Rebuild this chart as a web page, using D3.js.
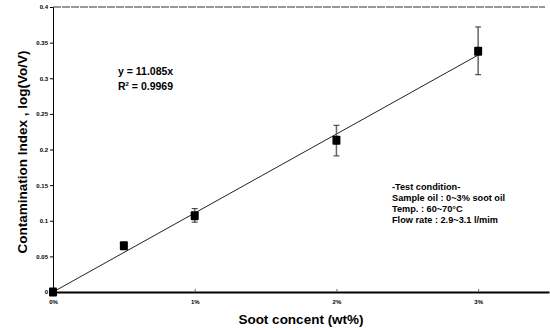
<!DOCTYPE html>
<html>
<head>
<meta charset="utf-8">
<script src="https://cdn.jsdelivr.net/npm/d3@7"></script>
<style>
  body { margin: 0; background: #fff; }
  text { font-family: "Liberation Sans", Arial, sans-serif; }
</style>
</head>
<body>
<script>
// data
var sootPct = [0, 0.5, 1, 2, 3];
var contamIndex = [0, 0.065, 0.107, 0.213, 0.338];
var errLow = [0, 0.063, 0.098, 0.191, 0.305];
var errHigh = [0, 0.068, 0.117, 0.234, 0.372];
var xTicks = [0, 1, 2, 3];
var xTickLabels = ["0%", "1%", "2%", "3%"];
var yTicks = [0, 0.05, 0.1, 0.15, 0.2, 0.25, 0.3, 0.35, 0.4];
var slope = 11.085;
var conditionLines = ["-Test condition-", "Sample oil : 0~3% soot oil", "Temp. : 60~70\u00b0C", "Flow rate : 2.9~3.1 l/mim"];

var width = 550, height = 330;
var margin = { top: 7, right: 2, bottom: 38, left: 53 };

var svg = d3.select("body").append("svg")
    .attr("width", width)
    .attr("height", height);

var x = d3.scaleLinear()
    .domain([0, 3.5])
    .range([margin.left, width - margin.right + 1]);

var y = d3.scaleLinear()
    .domain([0, 0.4])
    .range([height - margin.bottom, margin.top]);

// top border (dotted)
svg.append("line")
    .attr("x1", x(0)).attr("x2", x(3.5) - 4)
    .attr("y1", y(0.4)).attr("y2", y(0.4))
    .attr("stroke", "#333")
    .attr("stroke-width", 1)
    .attr("stroke-dasharray", "8,1");

// y axis
var yAxis = svg.append("g")
    .attr("transform", "translate(" + x(0) + ",0)")
    .call(d3.axisLeft(y).tickValues(yTicks).tickSize(3).tickSizeOuter(0)
        .tickFormat(function (d) { return d === 0 ? "0" : d3.format("")(+d.toFixed(2)); }));
yAxis.select(".domain").attr("stroke", "#000").attr("stroke-width", 1);
yAxis.selectAll("text")
    .style("font-size", "6px")
    .style("font-weight", "bold")
    .attr("x", -5);

// x axis
var xAxis = svg.append("g")
    .attr("transform", "translate(0," + y(0) + ")")
    .call(d3.axisBottom(x).tickValues(xTicks).tickSize(0).tickSizeOuter(0)
        .tickFormat(function (d, i) { return xTickLabels[i]; }));
xAxis.select(".domain").attr("stroke", "#000").attr("stroke-width", 2);
xAxis.selectAll("text")
    .style("font-size", "6px")
    .style("font-weight", "bold")
    .attr("y", 8);
xAxis.selectAll(".tick line")
    .attr("y2", -3)
    .attr("stroke", "#666");

// fit line
svg.append("line")
    .attr("x1", x(0)).attr("y1", y(0))
    .attr("x2", x(3)).attr("y2", y(slope * 0.03))
    .attr("stroke", "#222")
    .attr("stroke-width", 1);

// error bars
var eb = svg.append("g").attr("class", "errorbars");
sootPct.forEach(function (s, i) {
    if (errHigh[i] - errLow[i] < 0.01) return;
    eb.append("line")
        .attr("x1", x(s)).attr("x2", x(s))
        .attr("y1", y(errLow[i])).attr("y2", y(errHigh[i]))
        .attr("stroke", "#666").attr("stroke-width", 1.5);
    [errLow[i], errHigh[i]].forEach(function (v) {
        eb.append("line")
            .attr("x1", x(s) - 3).attr("x2", x(s) + 3)
            .attr("y1", y(v)).attr("y2", y(v))
            .attr("stroke", "#333").attr("stroke-width", 1);
    });
});

// markers
svg.append("g").selectAll("rect")
    .data(sootPct)
    .enter().append("rect")
    .attr("x", function (d) { return x(d) - 4; })
    .attr("y", function (d, i) { return y(contamIndex[i]) - 4.5; })
    .attr("width", 8)
    .attr("height", 9)
    .attr("rx", 1)
    .attr("fill", "#000");

// equation
svg.append("text")
    .attr("x", 118).attr("y", 75)
    .style("font-size", "10.5px").style("font-weight", "bold")
    .text("y = 11.085x");
var r2 = svg.append("text")
    .attr("x", 118).attr("y", 90)
    .style("font-size", "10.5px").style("font-weight", "bold");
r2.append("tspan").text("R");
r2.append("tspan").attr("dy", -4).style("font-size", "6px").text("2");
r2.append("tspan").attr("dy", 4).text(" = 0.9969");

// test condition
svg.append("g").selectAll("text")
    .data(conditionLines)
    .enter().append("text")
    .attr("x", 392)
    .attr("y", function (d, i) { return 190 + i * 11; })
    .style("font-size", "9.2px")
    .style("font-weight", "bold")
    .text(function (d) { return d; });

// axis titles
svg.append("text")
    .attr("x", 301).attr("y", 324)
    .attr("text-anchor", "middle")
    .style("font-size", "13.5px").style("font-weight", "bold")
    .text("Soot concent (wt%)");

svg.append("text")
    .attr("transform", "translate(27," + 152 + ") rotate(-90)")
    .attr("text-anchor", "middle")
    .style("font-size", "13.5px").style("font-weight", "bold")
    .text("Contamination Index , log(Vo/V)");
</script>
</body>
</html>
